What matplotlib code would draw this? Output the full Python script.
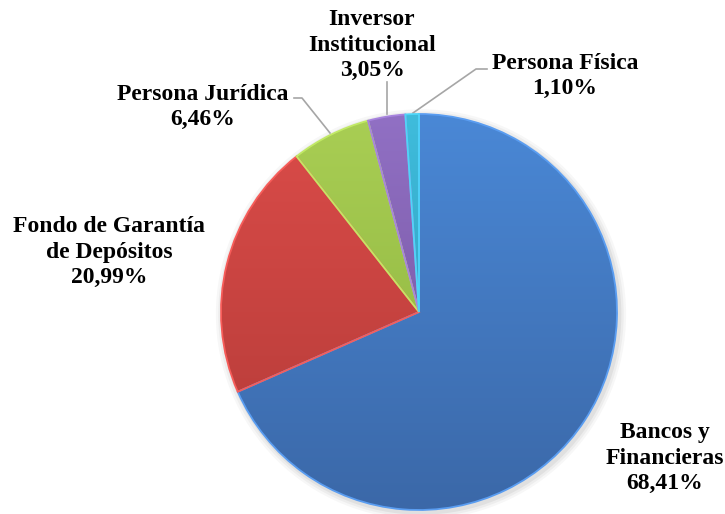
import numpy as np
import matplotlib.pyplot as plt
import matplotlib.colors as mcolors

# data
categories = ['Bancos y\nFinancieras', 'Fondo de Garantía\nde Depósitos',
              'Persona Jurídica', 'Inversor\nInstitucional', 'Persona Física']
shares = [68.41, 20.99, 6.46, 3.05, 1.10]
top_colors = ['#4A88D6', '#DB4C49', '#A9CE54', '#9170C4', '#3FBCDC']
bottom_colors = ['#3B68A8', '#B23A37', '#8AB03C', '#6F4F98', '#2A95B2']

plt.rcParams['font.family'] = ['Liberation Serif', 'DejaVu Serif']

W, H = 725, 514
cx, cy, R = 419, 312, 198   # pie centre / radius in pixels


def to_data(px, py):
    return (px - cx) / R, (cy - py) / R


fig = plt.figure(figsize=(W / 100, H / 100), dpi=100)
ax = fig.add_axes([0, 0, 1, 1])
x0, y1 = to_data(0, 0)
x1, y0 = to_data(W, H)

# faint shadow behind pie
for k, a in enumerate([0.05, 0.04, 0.03]):
    sh = plt.Circle((0.01, -0.012), 1.0 + 0.012 * (k + 1), color='black', alpha=a, zorder=0.5, lw=0)
    ax.add_patch(sh)

wedges, _ = ax.pie(shares, startangle=90, counterclock=False, radius=1.0,
                   center=(0, 0), colors=top_colors, frame=True,
                   wedgeprops=dict(linewidth=0))
ax.set_xlim(x0, x1)
ax.set_ylim(y0, y1)
ax.set_aspect('equal')
ax.axis('off')

grad = np.linspace(0, 1, 256).reshape(-1, 1)
for w, c1, c2 in zip(wedges, top_colors, bottom_colors):
    cmap = mcolors.LinearSegmentedColormap.from_list('g', [c1, c2])
    im = ax.imshow(grad, cmap=cmap, extent=(-1, 1, -1, 1), origin='upper',
                   aspect='auto', zorder=2, interpolation='bilinear')
    im.set_clip_path(w)
    # bevel highlight along edges
    edge = mcolors.to_rgb(c1)
    edge = tuple(min(1, v * 1.08 + 0.04) for v in edge)
    w.set_facecolor('none')
    w.set_edgecolor(edge)
    w.set_linewidth(1.3)
    w.set_zorder(3)

# labels
label_pos = [(665, 458), (109, 252), (203, 107), (372, 45), (565, 76)]
for name, val, (px, py) in zip(categories, shares, label_pos):
    txt = name + '\n' + ('%.2f%%' % val).replace('.', ',')
    tx, ty = to_data(px, py)
    ax.text(tx, ty, txt, ha='center', va='center', fontsize=17,
            fontweight='bold', linespacing=1.28, zorder=5)

# leader lines
leaders = [
    [(294, 98), (302, 98), (330, 133)],
    [(387, 82), (387, 114)],
    [(487, 69), (476, 69), (413, 113)],
]
for pts in leaders:
    xs, ys = zip(*[to_data(px, py) for px, py in pts])
    ax.plot(xs, ys, color='#A6A6A6', lw=1.2, zorder=1)

fig.savefig('out.png', dpi=100)
